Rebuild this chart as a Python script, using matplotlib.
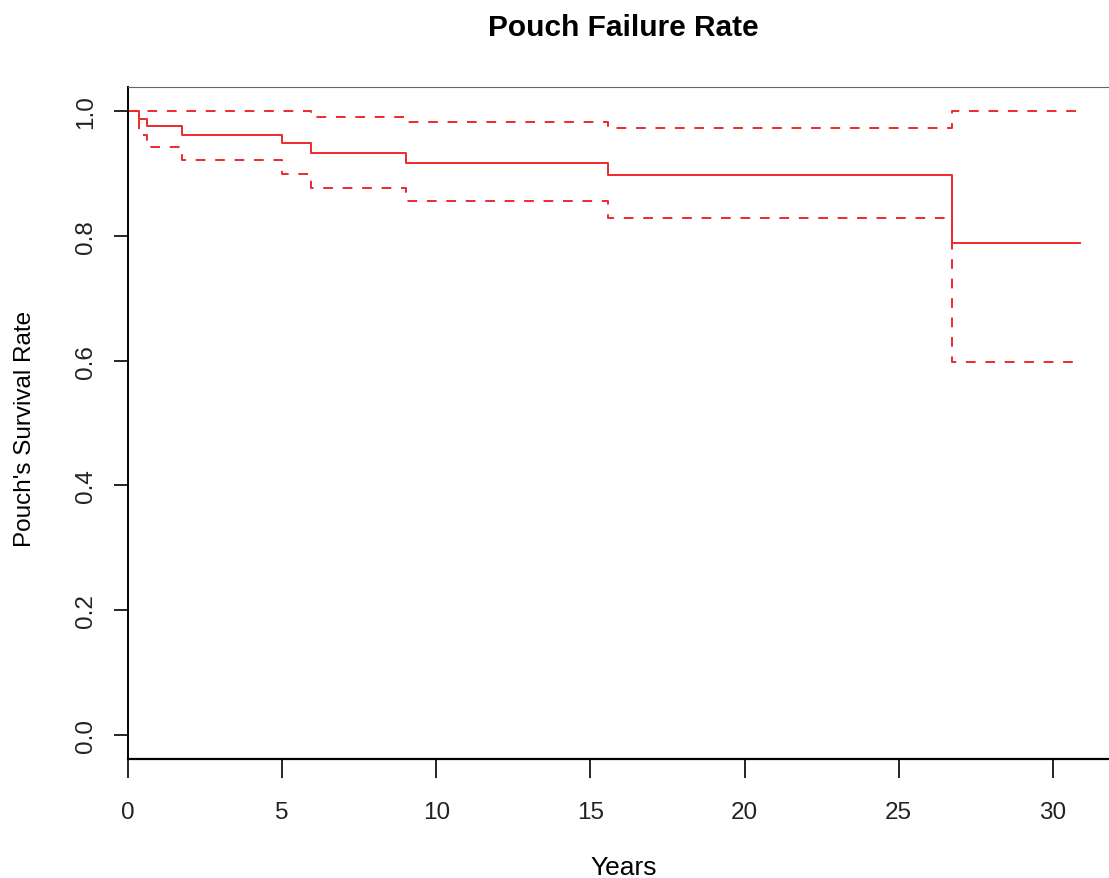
import matplotlib
matplotlib.use("Agg")
import matplotlib.pyplot as plt

# Kaplan-Meier estimate of pouch survival with 95% confidence band
years = [0, 0.36, 0.63, 1.76, 5.0, 5.95, 9.03, 15.57, 26.72, 30.88]
surv = [1.0, 0.987, 0.976, 0.962, 0.948, 0.933, 0.917, 0.898, 0.788, 0.788]
upper = [1.0, 1.0, 1.0, 1.0, 1.0, 0.991, 0.983, 0.973, 1.0, 1.0]
lower = [1.0, 0.962, 0.942, 0.922, 0.899, 0.877, 0.855, 0.829, 0.598, 0.598]

xticks = [0, 5, 10, 15, 20, 25, 30]
yticks = [0.0, 0.2, 0.4, 0.6, 0.8, 1.0]

plt.rcParams['font.family'] = ['Liberation Sans', 'DejaVu Sans']

fig = plt.figure(figsize=(11.09, 8.79), dpi=100)
ax = fig.add_axes([128/1109, 1-760/879, 1-128/1109, (760-88)/879])

red = '#ee2a2a'
ax.step(years, surv, where='post', color=red, lw=1.4)
ax.step(years, upper, where='post', color=red, lw=1.4, linestyle=(0, (5, 5)))
ax.step(years, lower, where='post', color=red, lw=1.4, linestyle=(0, (5, 5)))

ax.set_xlim(0, 31.82)
ax.set_ylim(-0.0385, 1.0385)
ax.set_xticks(xticks)
ax.set_yticks(yticks)
ax.set_xticklabels([str(t) for t in xticks], fontsize=17.5, color='#222222')
ax.set_yticklabels(['%.1f' % t for t in yticks], fontsize=17.5, rotation=90,
                   va='center', color='#222222')
ax.tick_params(axis='x', length=14, width=1.2, pad=16)
ax.tick_params(axis='y', length=10, width=1.2, pad=12)

ax.spines['right'].set_visible(False)
ax.spines['top'].set_color('#666666')
ax.spines['left'].set_linewidth(1.4)
ax.spines['bottom'].set_linewidth(1.6)

fig.text(623/1109, 1-28/879, 'Pouch Failure Rate', ha='center', va='center',
         fontsize=21.5, fontweight='bold')
fig.text(624/1109, 1-868/879, 'Years', ha='center', va='center', fontsize=19)
fig.text(25/1109, 1-429/879, "Pouch's Survival Rate", ha='center', va='center',
         fontsize=17.5, rotation=90)

fig.savefig('out.png', dpi=100)
